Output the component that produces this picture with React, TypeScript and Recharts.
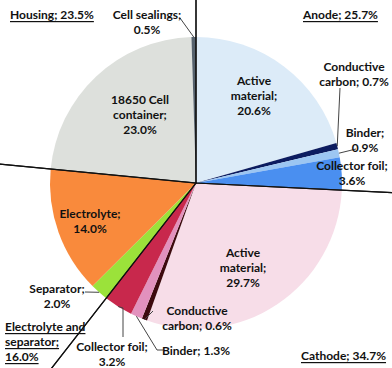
import React from 'react';
import { PieChart, Pie, Cell } from 'recharts';

const sliceNames = [
  'Active material', 'Conductive carbon', 'Binder', 'Collector foil',
  'Active material', 'Conductive carbon', 'Binder', 'Collector foil',
  'Separator', 'Electrolyte', '18650 Cell container', 'Cell sealings',
];
const sliceValues = [20.6, 0.7, 0.9, 3.6, 29.7, 0.6, 1.3, 3.2, 2.0, 14.0, 23.0, 0.5];
const sliceGroups = [
  'Anode', 'Anode', 'Anode', 'Anode',
  'Cathode', 'Cathode', 'Cathode', 'Cathode',
  'Electrolyte and separator', 'Electrolyte and separator', 'Housing', 'Housing',
];
const groupNames = ['Anode', 'Cathode', 'Electrolyte and separator', 'Housing'];
const groupShares = [25.7, 34.7, 16.0, 23.5];

const COLORS = [
  '#dcebf8', '#0c1c60', '#9cc6f2', '#4a8ff0',
  '#f7dde8', '#3d0a0e', '#e291bd', '#c8284c',
  '#9be23a', '#f98a3c', '#dde0dc', '#56626e',
];

// label placement relative to pie centre: dx/dy of first line, words per line, leader points
const SLICE_LABELS: any[] = [
  { dx: 58, dy: -103, words: [1, 1, 1] },
  { dx: 158, dy: -117, words: [1, 2], leader: [[144, -95]] },
  { dx: 169, dy: -51, words: [1, 1], leader: [[160, -34]] },
  { dx: 156, dy: -18, words: [2, 1] },
  { dx: 47, dy: 69, words: [1, 1, 1] },
  { dx: 1, dy: 127, words: [1, 2], leader: [[-43, 128]] },
  { dx: 0, dy: 167, words: [2], leader: [[-39, 167], [-33, 167]] },
  { dx: -84, dy: 163, words: [2, 1], leader: [[-73, 125], [-73, 154]] },
  { dx: -139, dy: 105, words: [1, 1], leader: [[-111, 109]] },
  { dx: -106, dy: 30, words: [1, 1] },
  { dx: -56, dy: -84, words: [2, 1, 1] },
  { dx: -49, dy: -169, words: [2, 1], leader: [[-16, -165]] },
];

const GROUP_LABELS: any[] = [
  { dx: 107, dy: -169, lines: 1 },
  { dx: 105, dy: 172, lines: 1 },
  { dx: -191, dy: 143, lines: 3 },
  { dx: -186, dy: -169, lines: 1 },
];

const FONT = { fontFamily: 'Lato, sans-serif', fontWeight: 700, fontSize: 12, fill: '#111' };
const LINE_H = 15;
const RAD = Math.PI / 180;

const sliceData = sliceNames.map((name, i) => ({ name, value: sliceValues[i] }));
const groupData = groupNames.map((name) => ({
  name,
  value: sliceValues.reduce((s, v, i) => (sliceGroups[i] === name ? s + v : s), 0),
}));

const splitLines = (text: string, counts: number[]) => {
  const words = text.split(' ');
  const out: string[] = [];
  let k = 0;
  counts.forEach((n) => {
    out.push(words.slice(k, k + n).join(' '));
    k += n;
  });
  if (k < words.length) out[out.length - 1] += ' ' + words.slice(k).join(' ');
  return out;
};

const renderSliceLabel = (p: any) => {
  const i = p.index;
  const L = SLICE_LABELS[i];
  const cx = p.cx, cy = p.cy;
  const lines = splitLines(`${sliceNames[i]}; ${sliceValues[i].toFixed(1)}%`, L.words);
  let leader = null;
  if (L.leader) {
    const sx = cx + p.outerRadius * Math.cos(-p.midAngle * RAD);
    const sy = cy + p.outerRadius * Math.sin(-p.midAngle * RAD);
    const pts = [[sx, sy], ...L.leader.map(([a, b]: number[]) => [cx + a, cy + b])];
    leader = <polyline points={pts.map((q) => q.join(',')).join(' ')} fill="none" stroke="#444" strokeWidth={1} />;
  }
  return (
    <g key={`sl-${i}`}>
      {leader}
      <text x={cx + L.dx} y={cy + L.dy} textAnchor="middle" dominantBaseline="central" {...FONT}>
        {lines.map((t, j) => (
          <tspan key={j} x={cx + L.dx} dy={j === 0 ? 0 : LINE_H}>{t}</tspan>
        ))}
      </text>
    </g>
  );
};

const renderGroupLabel = (p: any) => {
  const i = p.index;
  const L = GROUP_LABELS[i];
  const text = `${groupNames[i]}; ${groupShares[i].toFixed(1)}%`;
  const lines = L.lines === 3 ? splitLines(text, [2, 1, 1]) : [text];
  return (
    <text key={`gl-${i}`} x={p.cx + L.dx} y={p.cy + L.dy} textAnchor="start" dominantBaseline="central"
      {...FONT} style={{ textDecoration: 'underline' }}>
      {lines.map((t, j) => (
        <tspan key={j} x={p.cx + L.dx} dy={j === 0 ? 0 : LINE_H}>{t}</tspan>
      ))}
    </text>
  );
};

export default function App() {
  return (
    <div style={{ width: 392, height: 368, overflow: 'hidden', background: '#fff' }}>
      <style>{'body{margin:0}'}</style>
      <PieChart width={392} height={368} margin={{ top: 0, right: 0, bottom: 0, left: 0 }}>
        <Pie
          data={sliceData}
          dataKey="value"
          nameKey="name"
          cx={196}
          cy={183}
          outerRadius={146}
          startAngle={90}
          endAngle={-270}
          stroke="none"
          label={renderSliceLabel}
          labelLine={false}
          isAnimationActive={false}
        >
          {sliceData.map((d, i) => (
            <Cell key={`c-${i}`} fill={COLORS[i]} />
          ))}
        </Pie>
        <Pie
          data={groupData}
          dataKey="value"
          nameKey="name"
          cx={196}
          cy={183}
          outerRadius={290}
          startAngle={90}
          endAngle={-270}
          fill="none"
          stroke="#111"
          strokeWidth={1.2}
          label={renderGroupLabel}
          labelLine={false}
          isAnimationActive={false}
        />
      </PieChart>
    </div>
  );
}
